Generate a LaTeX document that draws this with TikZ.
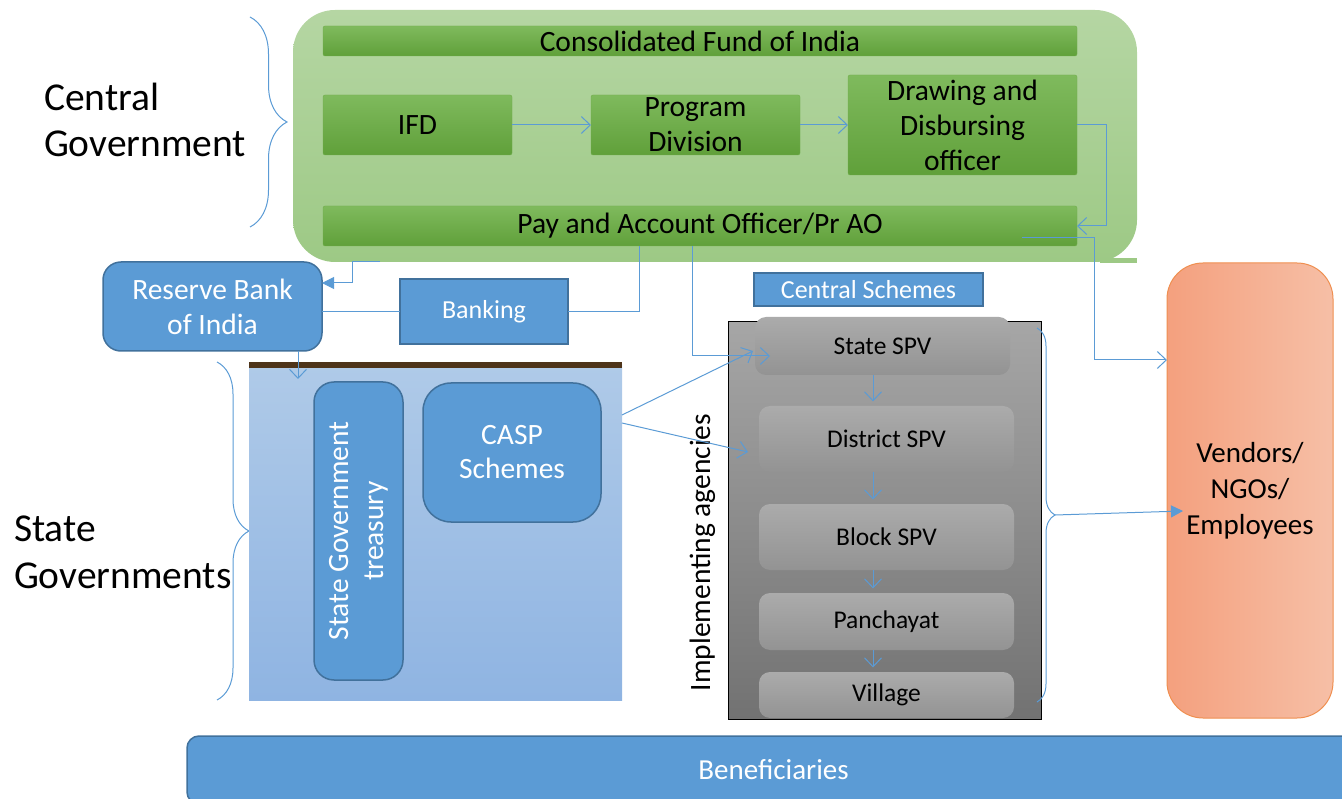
\documentclass[tikz,border=0pt]{standalone}
\usepackage{fontspec}
\setmainfont{Carlito}
\usetikzlibrary{arrows.meta,decorations.pathreplacing}

\definecolor{linkblue}{HTML}{5B9BD5}
\definecolor{boxblue}{HTML}{5B9BD5}
\definecolor{blueline}{HTML}{41719C}
\definecolor{outertop}{HTML}{B5D6A3}
\definecolor{outerbot}{HTML}{9DC985}
\definecolor{greentop}{HTML}{7FBA5D}
\definecolor{greenbot}{HTML}{60A03A}
\definecolor{greenline}{HTML}{71AD4C}
\definecolor{statetop}{HTML}{AFCAE8}
\definecolor{statebot}{HTML}{8FB4E2}
\definecolor{brownbar}{HTML}{4E3419}
\definecolor{impltop}{HTML}{A6A6A6}
\definecolor{implbot}{HTML}{727272}
\definecolor{spvtop}{HTML}{ABABAB}
\definecolor{spvbot}{HTML}{939393}
\definecolor{vendleft}{HTML}{F4A07E}
\definecolor{vendright}{HTML}{F6BFA6}
\definecolor{vendline}{HTML}{EF8F50}

\begin{document}
\begin{tikzpicture}[x=1pt, y=-1pt,
    every node/.style={inner sep=0pt, outer sep=0pt},
    outerbox/.style={top color=outertop, bottom color=outerbot, rounded corners=42pt},
    greenbox/.style={draw=greenline, top color=greentop, bottom color=greenbot,
      rounded corners=2pt, align=center, font=\fontsize{29.5}{35}\selectfont},
    bluebox/.style={draw=blueline, line width=1.5pt, fill=boxblue, text=white, align=center},
    statebox/.style={top color=statetop, bottom color=statebot},
    implbox/.style={draw=black, line width=1pt, top color=impltop, bottom color=implbot},
    spvbox/.style={rounded corners=11pt, top color=spvtop, bottom color=spvbot,
      font=\fontsize{25.5}{30}\selectfont},
    vendbox/.style={draw=vendline, line width=1pt, left color=vendleft, right color=vendright,
      rounded corners=36pt, align=center},
    link/.style={linkblue, line width=1pt},
    flow/.style={link, -{Straight Barb[length=9pt,width=17pt]}},
    flowfill/.style={link, -{Triangle[length=12pt,width=12pt]}},
    bracket/.style={link, decorate, decoration={brace, amplitude=#1}},
  ]
  \useasboundingbox (0,0) rectangle (1342,799);

  % central government
  \node[outerbox, minimum width=844pt, minimum height=252pt] (central) at (715,136) {};
  \fill[outerbot] (1100,258) rectangle (1137,263);
  \node[greenbox, minimum width=754pt, minimum height=30pt] (cfi) at (700,41) {Consolidated Fund of India};
  \node[greenbox, minimum width=189pt, minimum height=60pt] (ifd) at (417.5,125) {IFD};
  \node[greenbox, minimum width=209pt, minimum height=60pt] (prog) at (695.5,125) {Program\\Division};
  \node[greenbox, minimum width=229pt, minimum height=100pt] (ddo) at (962.5,125) {Drawing and\\Disbursing\\officer};
  \node[greenbox, minimum width=754pt, minimum height=40pt] (pao) at (700,226) {Pay and Account Officer/Pr AO};

  \node[anchor=west, align=left, font=\fontsize{39.5}{46}\selectfont] (cgov) at (44,120) {Central\\Government};
  \node[anchor=west, align=left, font=\fontsize{39.5}{47}\selectfont] (sgov) at (14,552) {State\\Governments};
  \draw[bracket=37pt] (250,17) -- (250,227);
  \draw[bracket=32pt] (217,362) -- (217,700);

  % banking side
  \node[bluebox, rounded corners=18pt, minimum width=219pt, minimum height=89pt,
    font=\fontsize{29.5}{35}\selectfont] (rbi) at (212.5,306.5) {Reserve Bank\\of India};
  \node[bluebox, minimum width=168pt, minimum height=65pt,
    font=\fontsize{26}{30}\selectfont] (banking) at (484,311.5) {Banking};

  % state governments
  \node[statebox, minimum width=373pt, minimum height=335pt] (stbox) at (435.5,532.5) {};
  \draw[brownbar, line width=6pt] (stbox.north west) -- (stbox.north east);
  \node[bluebox, rounded corners=20pt, rotate=90, minimum width=298pt, minimum height=89pt,
    font=\fontsize{29.5}{35}\selectfont] (treasury) at (358.5,531) {State Government\\treasury};
  \node[bluebox, rounded corners=28pt, minimum width=178pt, minimum height=139pt,
    font=\fontsize{29.5}{34}\selectfont] (casp) at (512,452.5) {CASP\\Schemes};

  % implementing agencies
  \node[implbox, minimum width=313pt, minimum height=397pt] (impl) at (884.5,520.5) {};
  \node[rotate=90, font=\fontsize{29.5}{34}\selectfont] (impllabel) at (702.5,552.5) {Implementing agencies};
  \node[bluebox, minimum width=229pt, minimum height=33pt,
    font=\fontsize{26}{30}\selectfont] (cschemes) at (868.5,289.5) {Central Schemes};
  \node[spvbox, minimum width=255pt, minimum height=58pt] (sspv) at (882.5,346) {State SPV};
  \node[spvbox, minimum width=255pt, minimum height=66pt] (dspv) at (886.5,439) {District SPV};
  \node[spvbox, minimum width=255pt, minimum height=66pt] (bspv) at (886.5,537) {Block SPV};
  \node[spvbox, minimum width=255pt, minimum height=57pt] (pan) at (886.5,621.5) {Panchayat};
  \node[spvbox, minimum width=255pt, minimum height=46pt] (vil) at (886.5,695) {Village};
  \draw[bracket=18pt] (1037,328) -- (1037,702);

  \node[vendbox, minimum width=166pt, minimum height=455pt,
    font=\fontsize{29}{36}\selectfont] (vend) at (1250,490.5) {Vendors/\\NGOs/\\Employees};
  \node[bluebox, rounded corners=12pt, minimum width=1173pt, minimum height=68pt,
    font=\fontsize{29}{32}\selectfont] (benef) at (773.5,770) {Beneficiaries};

  % connectors
  \draw[flow] (ifd) -- (prog);
  \draw[flow] (prog) -- (ddo);
  \draw[flow] (ddo.east) -- ++(29,0) |- (pao.east);
  \coordinate (cgout) at (380,262);
  \draw[flowfill] (cgout) -- ++(-28,0) |- (rbi.east |- 0,283);
  \draw[link] ([xshift=-61pt]pao.south) |- (banking.east);
  \draw[link] (banking.west) -- (banking.west -| rbi.east);
  \coordinate (stin) at (298,379);
  \draw[flow] (rbi.south -| stin) -- (stin);
  \coordinate (sspvin) at (770,356);
  \draw[flow] (pao.south -| 692,0) |- (sspvin);
  \coordinate (sspvin2) at (753,351);
  \draw[flow] (stbox.east |- 0,415) -- (sspvin2);
  \coordinate (dspvin) at (748,452);
  \draw[flow] (stbox.east |- 0,423) -- (dspvin);
  \coordinate (paoout) at (1022,238);
  \draw[flow] (paoout) -- ++(72,0) |- (vend.west |- 0,360);
  \coordinate (chain) at (873,0);
  \foreach \a/\b in {sspv/dspv, dspv/bspv, bspv/pan, pan/vil}
    \draw[flow, shorten >=4.5pt] (\a.south -| chain) -- (\b.north -| chain);
  \coordinate (impltip) at (1055,515);
  \coordinate (vendin) at (1183,511);
  \draw[flowfill] (impltip) -- (vendin);
\end{tikzpicture}
\end{document}
